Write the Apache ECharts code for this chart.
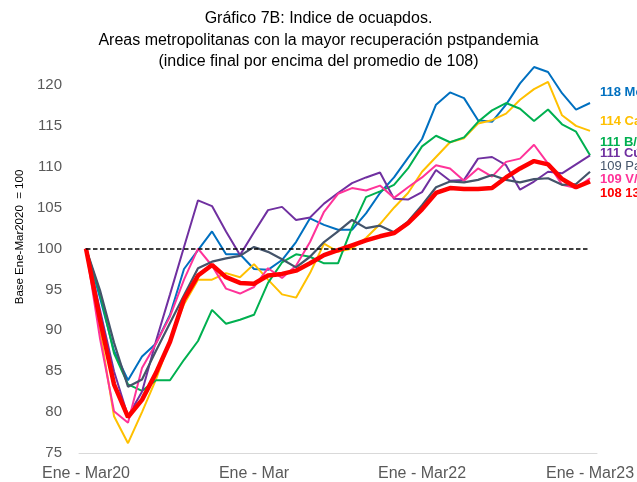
<!DOCTYPE html>
<html>
<head>
<meta charset="utf-8">
<script src="https://cdn.jsdelivr.net/npm/echarts@6/dist/echarts.min.js"></script>
<style>
html, body { margin: 0; padding: 0; background: #fff; }
#chart { width: 637px; height: 482px; }
</style>
</head>
<body>
<div id="chart"></div>
<script>
// trimestres moviles, Ene-Mar 2020 .. Ene-Mar 2023
var periods = [
    'Ene - Mar20', 'Feb - Abr20', 'Mar - May20', 'Abr - Jun20', 'May - Jul20', 'Jun - Ago20',
    'Jul - Sep20', 'Ago - Oct20', 'Sep - Nov20', 'Oct - Dic20', 'Nov - Ene21', 'Dic - Feb21',
    'Ene - Mar', 'Feb - Abr21', 'Mar - May21', 'Abr - Jun21', 'May - Jul21', 'Jun - Ago21',
    'Jul - Sep21', 'Ago - Oct21', 'Sep - Nov21', 'Oct - Dic21', 'Nov - Ene22', 'Dic - Feb22',
    'Ene - Mar22', 'Feb - Abr22', 'Mar - May22', 'Abr - Jun22', 'May - Jul22', 'Jun - Ago22',
    'Jul - Sep22', 'Ago - Oct22', 'Sep - Nov22', 'Oct - Dic22', 'Nov - Ene23', 'Dic - Feb23',
    'Ene - Mar23'
];

var medellin = [100, 94, 87.5, 83.9, 86.8, 88.4, 91.9, 97.5, 99.8, 102.1,
    99.3, 99.3, 97.5, 97.4, 98.6, 100.8, 103.7, 102.9, 102.3, 102.3,
    104.3, 106.8, 108.7, 111.1, 113.4, 117.6, 119.1, 118.4, 115.7, 115.5,
    117.6, 120.2, 122.2, 121.6, 119, 117, 117.8];
var cartagena = [100, 90, 79.5, 76.2, 80, 84, 88.8, 93.2, 96.2, 96.2,
    97, 96.5, 98.1, 96.2, 94.4, 94, 97, 100.6, 99.6, 100,
    101.3, 103, 105, 106.8, 109.4, 111.2, 113, 113.5, 115.3, 115.7,
    116.5, 118.2, 119.5, 120.4, 116.3, 115, 114.4];
var bquilla = [100, 94.5, 87.2, 83.4, 82.6, 83.9, 83.9, 86.4, 88.7, 92.5,
    90.8, 91.3, 91.9, 95.8, 98.3, 99.3, 99, 98.2, 98.2, 102.6,
    106.3, 107, 107.8, 109.8, 112.5, 113.8, 113, 113.6, 115.5, 116.9,
    117.8, 117.1, 115.6, 117, 115.2, 114.3, 111.4];
var cucuta = [100, 92.5, 85, 79.5, 82.5, 88.7, 94.4, 100.2, 105.9, 105.2,
    102.1, 99.2, 102, 104.7, 105.1, 103.5, 103.8, 105.5, 106.8, 108,
    108.7, 109.3, 106.1, 106, 106.9, 109.6, 108.3, 108.4, 111, 111.2,
    110.2, 107.2, 108.2, 109.4, 109.2, 110.3, 111.4];
var pasto = [100, 94.9, 88.5, 83.1, 84, 87.5, 90.9, 94.3, 97.6, 98.4,
    98.8, 99.1, 100.2, 99.6, 98.7, 97.7, 99, 100.8, 102.1, 103.5,
    102.5, 102.8, 102, 103.3, 105.3, 107.5, 108.2, 108.1, 108.4, 109,
    108.4, 108.1, 108.5, 108.6, 107.8, 107.9, 109.4];
var vcencio = [100, 89, 80.1, 78.7, 85.4, 88.4, 91.7, 96.2, 100, 97.9,
    95.1, 94.5, 95.3, 97.6, 96.4, 97.9, 100.8, 104.5, 106.7, 107.4,
    107.1, 107.7, 106.2, 107.5, 108.7, 110.2, 109.8, 108.3, 109.8, 108.8,
    110.6, 111, 112.7, 110.4, 107.8, 107.4, 108.6];
var total13 = [100, 91.3, 83.4, 79.4, 81.5, 84.8, 88.6, 93.8, 96.7, 98,
    96.5, 95.8, 95.7, 96.7, 96.9, 97.3, 98.2, 99.2, 99.8, 100.4,
    101, 101.5, 101.9, 103.1, 104.8, 106.8, 107.4, 107.3, 107.3, 107.4,
    108.7, 109.8, 110.7, 110.3, 108.5, 107.5, 108.2];

var baseValue = 100;

var chart = echarts.init(document.getElementById('chart'));
var font = '"Liberation Sans", Arial, sans-serif';

function lineSeries(name, data, color, width, labelDy, bold) {
    return {
        name: name,
        type: 'line',
        data: data,
        symbol: 'none',
        lineStyle: { color: color, width: width },
        itemStyle: { color: color },
        endLabel: {
            show: true,
            formatter: name,
            color: color,
            fontFamily: font,
            fontSize: 13,
            fontWeight: bold ? 'bold' : 'normal',
            distance: 10,
            offset: [0, labelDy]
        }
    };
}

var series = [
    lineSeries('118 Medellín', medellin, '#0070C0', 2, -11, true),
    lineSeries('114 Cartagena', cartagena, '#FFC000', 2, -9, true),
    lineSeries('111 B/quilla', bquilla, '#00B050', 2, -12.5, true),
    lineSeries('111 Cúcuta', cucuta, '#7030A0', 2, -2, true),
    lineSeries('109 V/cencio', vcencio, '#FF3399', 2, 1.5, true),
    lineSeries('109 Pasto', pasto, '#44546A', 2.2, -5, false),
    lineSeries('108 13 áreas', total13, '#FF0000', 4.5, 12, true)
];

// linea de base 100 punteada
series[0].markLine = {
    silent: true,
    symbol: ['none', 'none'],
    label: { show: false },
    lineStyle: { color: '#000', type: [4.5, 2.5], width: 1.5 },
    data: [[
        { coord: [periods[0], baseValue] },
        { coord: [periods[periods.length - 1], baseValue] }
    ]]
};

var option = {
    animation: false,
    backgroundColor: '#fff',
    title: {
        text: 'Gráfico 7B: Indice de ocuapdos.\nAreas metropolitanas con la mayor recuperación pstpandemia\n(indice final por encima del promedio de 108)',
        left: 'center',
        top: 3,
        padding: [5, 5, 5, 70],
        textStyle: {
            fontFamily: font,
            fontSize: 16,
            fontWeight: 'normal',
            color: '#000',
            lineHeight: 21.5
        }
    },
    grid: {
        left: 79,
        right: 36.5,
        top: 60.5,
        bottom: 29
    },
    graphic: [{
        type: 'text',
        x: 20,
        y: 237,
        rotation: Math.PI / 2,
        style: {
            text: 'Base Ene-Mar2020  = 100',
            fontFamily: font,
            fontSize: 11.5,
            fill: '#000',
            textAlign: 'center',
            textVerticalAlign: 'middle'
        }
    }],
    xAxis: {
        type: 'category',
        data: periods,
        boundaryGap: true,
        axisLine: { lineStyle: { color: '#D9D9D9', width: 1 } },
        axisTick: { show: false },
        axisLabel: {
            interval: 11,
            margin: 13,
            fontFamily: font,
            fontSize: 16,
            color: '#595959'
        },
        splitLine: { show: false }
    },
    yAxis: {
        type: 'value',
        min: 75,
        max: 123,
        interval: 5,
        axisLine: { show: false },
        axisTick: { show: false },
        splitLine: { show: false },
        axisLabel: {
            showMaxLabel: false,
            margin: 17,
            fontFamily: font,
            fontSize: 15,
            color: '#595959'
        }
    },
    series: series
};
chart.setOption(option);
</script>
</body>
</html>
